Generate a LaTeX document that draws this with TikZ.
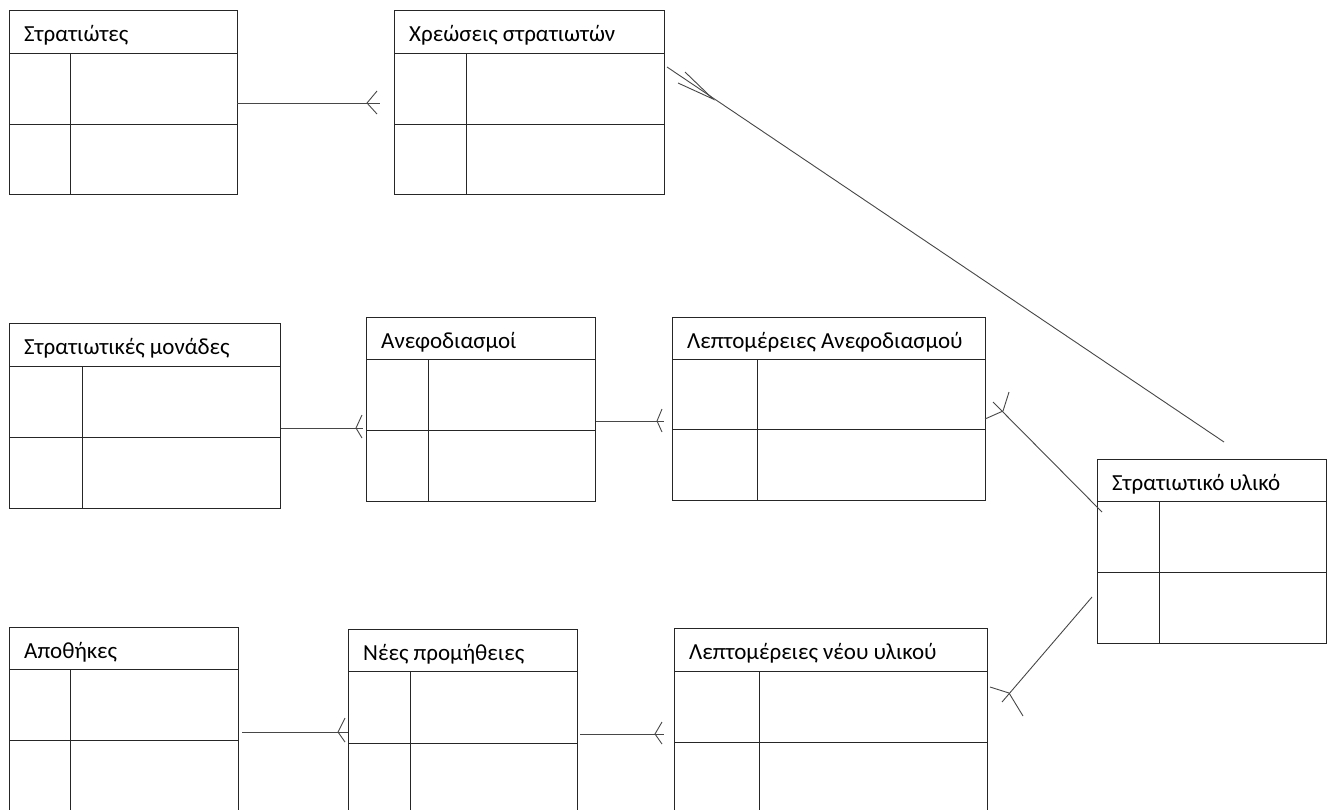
\documentclass[tikz,border=0pt]{standalone}
\usepackage{fontspec}
\setmainfont{Carlito}
\tikzset{
  box/.style={draw=black!85, line width=1pt, fill=none},
  sep/.style={draw=black!85, line width=1pt},
  rel/.style={draw=black!72, line width=0.9pt},
  ttl/.style={anchor=base west, inner sep=0pt, font=\fontsize{23}{26}\selectfont},
}
% name, x, y, width, height, header offset, divider offset, mid offset, title
\newcommand\ertable[9]{%
  \node[box, anchor=north west, minimum width=#4pt, minimum height=#5pt, inner sep=0pt] (#1) at (#2,#3) {};
  \draw[sep] ([yshift=-#6pt]#1.north west) -- ([yshift=-#6pt]#1.north east);
  \draw[sep] ([xshift=#7pt,yshift=-#6pt]#1.north west) -- ([xshift=#7pt]#1.south west);
  \draw[sep] ([yshift=-#8pt]#1.north west) -- ([yshift=-#8pt]#1.north east);
  \node[ttl] (#1-t) at ([xshift=15pt,yshift=-31pt]#1.north west) {#9};
}
\begin{document}
\begin{tikzpicture}[x=1pt,y=-1pt]
\useasboundingbox (0,0) rectangle (1330,809);
\fill[white] (0,0) rectangle (1330,809);
\clip (0,0) rectangle (1330,809);

\ertable{sold}{9}{10}{228}{184}{43}{61}{114}{Στρατιώτες}
\ertable{xre}{394}{10}{270}{184}{43}{72}{114}{Χρεώσεις στρατιωτών}
\ertable{mon}{9}{323}{271}{185}{43}{73}{114}{Στρατιωτικές μονάδες}
\ertable{anef}{366}{317}{229}{184}{42}{62}{113}{Ανεφοδιασμοί}
\ertable{lanef}{672}{317}{313}{183}{42}{85}{112}{Λεπτομέρειες Ανεφοδιασμού}
\ertable{yl}{1097}{459}{229}{184}{42}{62}{113}{Στρατιωτικό υλικό}
\ertable{apo}{9}{627}{229}{200}{42}{61}{113}{Αποθήκες}
\ertable{nees}{348}{629}{229}{200}{42}{62}{114}{Νέες προμήθειες}
\ertable{lnees}{674}{628}{313}{200}{43}{85}{114}{Λεπτομέρειες νέου υλικού}

% Stratiotes -> Xreoseis
\coordinate (c1s) at (237,103);
\coordinate (c1e) at (380,103);
\coordinate (c1f) at (367,103);
\draw[rel] (c1s) -- (c1e);
\draw[rel] (377,91) -- (c1f) -- (377,114);

% Xreoseis <- Stratiotiko yliko
\coordinate (c2s) at (667,67);
\coordinate (c2e) at (1224,442);
\coordinate (c2f) at (713,99);
\draw[rel] (c2s) -- (c2e);
\draw[rel] (685,72) -- (c2f) -- (678,83);

% Monades <- Anefodiasmoi
\coordinate (c3s) at (281,428);
\coordinate (c3e) at (363,428);
\coordinate (c3f) at (356,428);
\draw[rel] (c3s) -- (c3e);
\draw[rel] (362,415) -- (c3f) -- (362,438);

% Anefodiasmoi <- Leptomereies
\coordinate (c4s) at (596,421);
\coordinate (c4e) at (664,421);
\coordinate (c4f) at (657,421);
\draw[rel] (c4s) -- (c4e);
\draw[rel] (662,409) -- (c4f) -- (662,432);

% Leptomereies Anef <- Stratiotiko yliko
\coordinate (c5s) at (1102,512);
\coordinate (c5e) at (993,402);
\coordinate (c5f) at (1003,411);
\draw[rel] (c5s) -- (c5e);
\draw[rel] (985,419) -- (c5f) -- (1009,392);

% Leptomereies neou <- Stratiotiko yliko
\coordinate (c6s) at (1092,597);
\coordinate (c6e) at (1002,702);
\coordinate (c6f) at (1009,693);
\draw[rel] (c6s) -- (c6e);
\draw[rel] (990,687) -- (c6f) -- (1023,716);

% Apothikes <- Nees
\coordinate (c7s) at (242,732);
\coordinate (c7e) at (348,732);
\coordinate (c7f) at (338,732);
\draw[rel] (c7s) -- (c7e);
\draw[rel] (345,718) -- (c7f) -- (345,742);

% Nees <- Leptomereies neou
\coordinate (c8s) at (580,734);
\coordinate (c8e) at (664,734);
\coordinate (c8f) at (655,734);
\draw[rel] (c8s) -- (c8e);
\draw[rel] (662,722) -- (c8f) -- (662,744);
\end{tikzpicture}
\end{document}
